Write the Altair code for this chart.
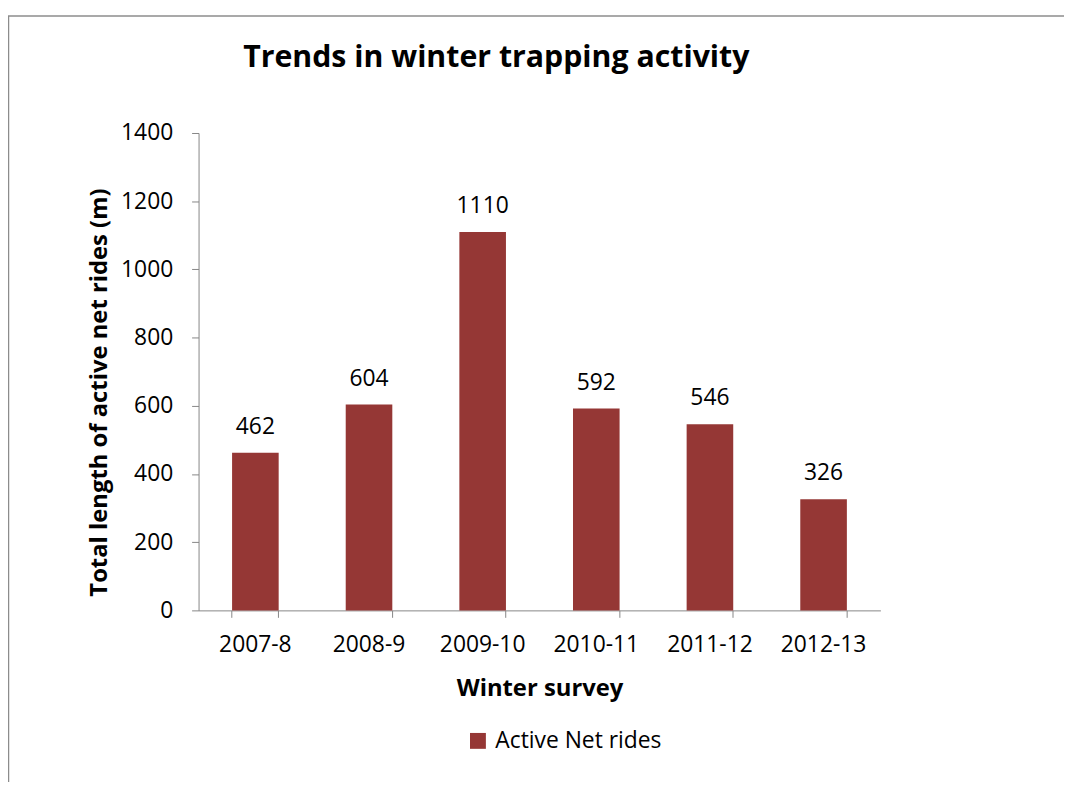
import altair as alt
import pandas as pd

seasons = ["2007-8", "2008-9", "2009-10", "2010-11", "2011-12", "2012-13"]
lengths = [462, 604, 1110, 592, 546, 326]
series_name = "Active Net rides"
y_ticks = [0, 200, 400, 600, 800, 1000, 1200, 1400]
chart_title = "Trends in winter trapping activity"

df = pd.DataFrame({"season": seasons, "length": lengths, "series": series_name})

W, H = 687, 481
PAD = {"left": 192, "top": 123, "right": 185, "bottom": 173}
FONT = "Open Sans"
AXIS_GREY = "#868686"
BAR = "#953735"

base = alt.Chart(df)

bars = base.mark_bar(color=BAR).encode(
    x=alt.X(
        "season:N",
        sort=seasons,
        scale=alt.Scale(paddingInner=0.59, paddingOuter=0.295),
        axis=alt.Axis(
            title="Winter survey",
            titleFont=FONT, titleFontSize=24, titleFontWeight="bold", titleColor="black",
            titleY=79, titleBaseline="middle",
            labelFont=FONT, labelFontSize=23, labelColor="black", labelAngle=0,
            labelPadding=16,
            domainColor=AXIS_GREY, tickColor=AXIS_GREY, tickSize=7,
            bandPosition=1, tickExtra=True, grid=False,
        ),
    ),
    y=alt.Y(
        "length:Q",
        scale=alt.Scale(domain=[0, 1400], nice=False),
        axis=alt.Axis(
            title="Total length of active net rides (m)",
            values=y_ticks, format="d",
            titleFont=FONT, titleFontSize=24, titleFontWeight="bold", titleColor="black",
            titleX=-100, titleY=261, titleBaseline="middle",
            labelFont=FONT, labelFontSize=23, labelColor="black",
            labelPadding=19,
            domainColor=AXIS_GREY, tickColor=AXIS_GREY, tickSize=7, grid=False,
        ),
    ),
    fill=alt.Fill(
        "series:N",
        scale=alt.Scale(range=[BAR]),
        legend=alt.Legend(
            title=None, orient="none", legendX=270, legendY=601,
            symbolType="square", symbolSize=256, symbolStrokeWidth=0,
            labelFont=FONT, labelFontSize=23, labelColor="black", labelOffset=6,
            labelLimit=0,
        ),
    ),
)

labels = base.mark_text(
    font=FONT, fontSize=23, color="black", baseline="alphabetic", dy=-19
).encode(
    x=alt.X("season:N", sort=seasons),
    y="length:Q",
    text="length:Q",
)

title_df = pd.DataFrame({"t": [chart_title]})
title_mark = alt.Chart(title_df).mark_text(
    font=FONT, fontSize=30.5, fontWeight="bold", color="black",
    align="center", baseline="alphabetic",
).encode(x=alt.value(300), y=alt.value(-66), text="t:N")

border_df = pd.DataFrame({"k": [0]})
top_line = alt.Chart(border_df).mark_rule(color="#8c8c8c", strokeWidth=1.5).encode(
    x=alt.value(-192), x2=alt.value(W + 185), y=alt.value(-118)
)
left_line = alt.Chart(border_df).mark_rule(color="#8c8c8c", strokeWidth=1.5).encode(
    x=alt.value(-191.5), y=alt.value(-118), y2=alt.value(H + 173)
)

chart = (
    alt.layer(bars, labels, title_mark, top_line, left_line)
    .properties(
        width=W,
        height=H,
        padding=PAD,
        autosize=alt.AutoSizeParams(type="none"),
    )
    .configure_view(stroke=None)
)

chart.save("out.html", embed_options={"renderer": "svg", "actions": False})
